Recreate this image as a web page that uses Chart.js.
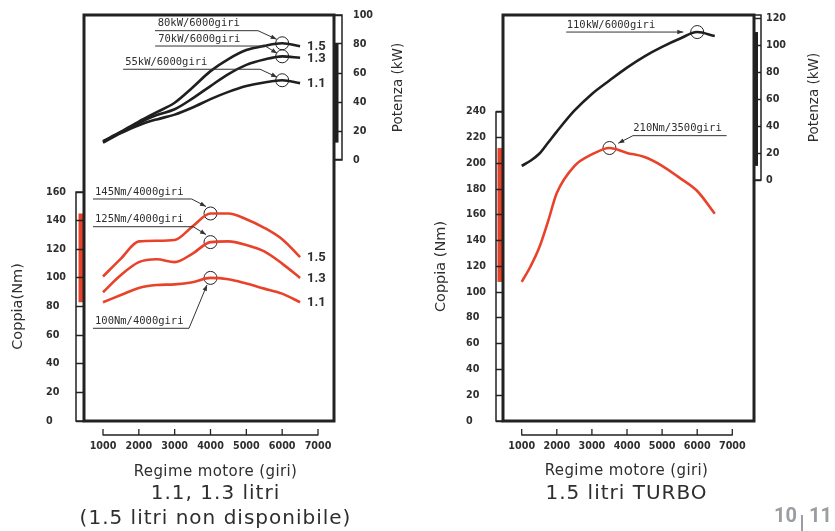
<!DOCTYPE html>
<html><head><meta charset="utf-8">
<script src="https://cdn.jsdelivr.net/npm/chart.js@4.4.1/dist/chart.umd.min.js"></script>
<style>
html,body{margin:0;padding:0;background:#fff;width:835px;height:531px;overflow:hidden}
canvas{position:absolute;top:0}
#c1{left:0}
#c2{left:418px}
</style></head><body>
<canvas id="c1" width="418" height="531"></canvas>
<canvas id="c2" width="417" height="531"></canvas>
<script>
// ---------- DATA ----------
// Left panel: 1.1 / 1.3 / 1.5 litri
const rpmA = [1000,1500,2000,2500,3000,3500,4000,4500,5000,5500,6000,6500];
const powerA15 = [13,19.5,26.5,33,39.5,50,61.3,69.6,75.8,78.7,80.5,78.5];
const powerA13 = [12.5,19,25.5,31,35,42.5,51,59.2,65.6,69.3,71.5,70.5];
const powerA11 = [12,18.5,24,28,31.3,36.2,42,47,51,53.5,55,53];
const torqueA15 = [101,113.5,125.5,126,126.5,136,145,145,141,135,127,114.5];
const torqueA13 = [90,102,111,113,111,117,125,125.5,123,118.5,110,100];
const torqueA11 = [83,88,93,95,95.5,97,100,99,96,92.5,89,83];
const seriesNamesA = ['1.5','1.3','1.1'];
// Right panel: 1.5 litri TURBO
const rpmB = [1000,1250,1500,1750,2000,2500,3000,3500,4000,4500,5000,5500,6000,6500];
const powerB = [10.5,14.3,19.5,27.7,36,51.5,64,74,83.6,92,99,105,110,107];
const torqueB = [108,120,134.7,155,177,198,207,212,208.2,205,198.2,188.8,178.6,161];
// Ticks
const xTicks = [1000,2000,3000,4000,5000,6000,7000];
const torqueTicksA = [0,20,40,60,80,100,120,140,160];
const powerTicksA = [0,20,40,60,80,100];
const torqueTicksB = [0,20,40,60,80,100,120,140,160,180,200,220,240];
const powerTicksB = [0,20,40,60,80,100,120];
// Peak annotations
const peaksA_power = [{rpm:6000, text:'80kW/6000giri'},{rpm:6000, text:'70kW/6000giri'},{rpm:6000, text:'55kW/6000giri'}];
const peaksA_torque = [{rpm:4000, text:'145Nm/4000giri'},{rpm:4000, text:'125Nm/4000giri'},{rpm:4000, text:'100Nm/4000giri'}];
const peakB_power = {rpm:6000, text:'110kW/6000giri'};
const peakB_torque = {rpm:3500, text:'210Nm/3500giri'};

// ---------- STYLE ----------
const TXT = '#2e2e2e', FRAME = '#222', RED = '#e8432a', BLACK = '#1f1f1f';
const tickFont = {family:'DejaVu Sans', size:9.6, weight:'bold'};

function pts(xs, ys){ return xs.map((x,i)=>({x, y:ys[i]})); }
function lineDs(xs, ys, color, axis){
  return {data:pts(xs,ys), yAxisID:axis, borderColor:color, borderWidth:2.6, pointRadius:0,
    cubicInterpolationMode:'monotone', fill:false, borderCapStyle:'butt'};
}
function valAt(xs, ys, x){ return ys[xs.indexOf(x)]; }
function circleDs(xs, ys, x, axis){
  return {data:[{x, y:valAt(xs,ys,x)}], yAxisID:axis, showLine:false, pointRadius:6.5,
    pointBorderWidth:1, pointBorderColor:'#222', pointBackgroundColor:'rgba(0,0,0,0)', pointHoverRadius:6.5};
}
function arrow(ctx, x0,y0,x1,y1){
  ctx.beginPath(); ctx.moveTo(x0,y0); ctx.lineTo(x1,y1); ctx.stroke();
  const a = Math.atan2(y1-y0, x1-x0), L=6, W=2.3;
  ctx.beginPath(); ctx.moveTo(x1,y1);
  ctx.lineTo(x1-L*Math.cos(a)+W*Math.sin(a), y1-L*Math.sin(a)-W*Math.cos(a));
  ctx.lineTo(x1-L*Math.cos(a)-W*Math.sin(a), y1-L*Math.sin(a)+W*Math.cos(a));
  ctx.closePath(); ctx.fill();
}
function text(ctx, s, x, y, font, align, spacing, rot){
  ctx.save(); ctx.font = font; ctx.fillStyle = TXT; ctx.textAlign = align||'left'; ctx.textBaseline='middle';
  ctx.letterSpacing = spacing||'0px';
  ctx.translate(x,y); if(rot) ctx.rotate(rot); ctx.fillText(s,0,0); ctx.restore();
}

function decor(o){
  return {
    id:'decor',
    beforeDraw(chart){
      const ctx=chart.ctx, ca=chart.chartArea, sT=chart.scales.yT, sP=chart.scales.yP;
      const allT=o.torque.flat(), allP=o.power.flat();
      ctx.save();
      ctx.fillStyle=RED;
      const t1=sT.getPixelForValue(Math.max(...allT)), t0=sT.getPixelForValue(Math.min(...allT));
      ctx.fillRect(ca.left-o.fillW, t1, o.fillW, t0-t1);
      ctx.fillStyle=BLACK;
      const p1=sP.getPixelForValue(Math.max(...allP)), p0=sP.getPixelForValue(Math.min(...allP));
      ctx.fillRect(ca.right, p1, o.pFillW, p0-p1);
      ctx.restore();
    },
    afterDraw(chart){
      const ctx=chart.ctx, ca=chart.chartArea, sx=chart.scales.x, sT=chart.scales.yT, sP=chart.scales.yP;
      ctx.save();
      ctx.strokeStyle=FRAME; ctx.fillStyle=FRAME;
      ctx.lineWidth=1.5;
      const tTop=sT.getPixelForValue(o.tTicks[o.tTicks.length-1]);
      ctx.strokeRect(ca.left-o.tl, tTop, o.tl, ca.bottom-tTop);
      const p0=sP.getPixelForValue(0);
      ctx.strokeRect(ca.right, ca.top, o.tl, p0-ca.top);
      ctx.lineWidth=3;
      ctx.strokeRect(ca.left, ca.top, ca.right-ca.left, ca.bottom-ca.top);
      ctx.lineWidth=1.3;
      const yb=ca.bottom+14;
      ctx.beginPath();
      ctx.moveTo(sx.getPixelForValue(xTicks[0]), yb); ctx.lineTo(sx.getPixelForValue(xTicks[xTicks.length-1]), yb);
      xTicks.forEach(v=>{const px=sx.getPixelForValue(v); ctx.moveTo(px,yb-6); ctx.lineTo(px,yb+0.6);});
      ctx.stroke();
      const tMid=(sT.getPixelForValue(0)+tTop)/2;
      text(ctx, o.titleT, o.titleTx, tMid, '14.5px "DejaVu Sans"', 'center', '0px', -Math.PI/2);
      const pMid=(p0+ca.top)/2;
      text(ctx, 'Potenza (kW)', o.titlePx, pMid, '13.5px "DejaVu Sans"', 'center', '0px', -Math.PI/2);
      text(ctx, 'Regime motore (giri)', o.cx, o.xTitleY, '15px "DejaVu Sans"', 'center', '0.4px');
      o.subs.forEach(s=>text(ctx, s.t, o.cx, s.y, '20px "DejaVu Sans"', 'center', '1px'));
      ctx.lineWidth=1;
      o.ann.forEach(a=>{
        const cx=sx.getPixelForValue(a.x), cy=chart.scales[a.axis].getPixelForValue(a.y);
        text(ctx, a.text, cx+a.t[0], cy+a.t[1], '10.5px "DejaVu Sans Mono"', 'left');
        ctx.strokeStyle='#333'; ctx.fillStyle='#333';
        const p=a.path;
        ctx.beginPath(); ctx.moveTo(cx+p[0][0], cy+p[0][1]);
        for(let i=1;i<p.length;i++) ctx.lineTo(cx+p[i][0], cy+p[i][1]);
        ctx.stroke();
        const last=p[p.length-1];
        arrow(ctx, cx+last[0], cy+last[1], cx+a.tip[0], cy+a.tip[1]);
      });
      (o.ends||[]).forEach(e=>{
        const n=e.xs.length-1;
        text(ctx, e.text, sx.getPixelForValue(e.xs[n])+7, chart.scales[e.axis].getPixelForValue(e.ys[n])+0.5, 'bold 13px Roboto', 'left');
      });
      if(o.page){
        ctx.fillStyle='#9a9ea2';
        ctx.font='bold 20px Roboto'; ctx.textBaseline='middle';
        ctx.textAlign='right'; ctx.fillText('10', o.page.x, o.page.y);
        ctx.fillRect(o.page.x+4, o.page.y-2, 2, 16);
        ctx.textAlign='left'; ctx.fillText('11', o.page.x+12, o.page.y);
      }
      ctx.restore();
    }
  };
}

function axes(c){
  return {
    x:{type:'linear', position:'bottom', min:c.xMin, max:c.xMax,
      afterBuildTicks:s=>{s.ticks=xTicks.map(v=>({value:v}));},
      afterFit:s=>{s.height=40; s.paddingLeft=0; s.paddingRight=0;},
      grid:{display:false, drawTicks:false}, border:{display:false},
      ticks:{padding:20, font:tickFont, color:TXT, autoSkip:false, maxRotation:0, callback:v=>String(v)}},
    yT:{type:'linear', position:'left', min:0, max:c.tMax,
      afterBuildTicks:s=>{s.ticks=c.tTicks.map(v=>({value:v}));},
      afterFit:s=>{s.width=c.lw; s.paddingTop=0; s.paddingBottom=0;},
      grid:{drawOnChartArea:false, drawTicks:true, tickLength:c.tl, tickWidth:1.5, tickColor:FRAME},
      border:{display:false},
      ticks:{crossAlign:'far', padding:4, font:tickFont, color:TXT, autoSkip:false, callback:v=>String(v)}},
    yP:{type:'linear', position:'right', min:c.pMin, max:c.pMax,
      afterBuildTicks:s=>{s.ticks=c.pTicks.map(v=>({value:v}));},
      afterFit:s=>{s.width=c.rw; s.paddingTop=0; s.paddingBottom=0;},
      grid:{drawOnChartArea:false, drawTicks:true, tickLength:c.tl, tickWidth:1.5, tickColor:FRAME},
      border:{display:false},
      ticks:{crossAlign:'near', padding:c.pPad, font:tickFont, color:TXT, autoSkip:false, callback:v=>String(v)}}
  };
}

function baseOpts(padLeft){
  return {responsive:false, animation:false, events:[],
    layout:{padding:{left:padLeft,right:0,top:15,bottom:70}},
    plugins:{legend:{display:false}, tooltip:{enabled:false}}};
}

// ---------- LEFT CHART ----------
new Chart(document.getElementById('c1'), {
  type:'line',
  data:{datasets:[
    lineDs(rpmA, powerA15, BLACK, 'yP'), lineDs(rpmA, powerA13, BLACK, 'yP'), lineDs(rpmA, powerA11, BLACK, 'yP'),
    lineDs(rpmA, torqueA15, RED, 'yT'), lineDs(rpmA, torqueA13, RED, 'yT'), lineDs(rpmA, torqueA11, RED, 'yT'),
    circleDs(rpmA, powerA15, peaksA_power[0].rpm, 'yP'), circleDs(rpmA, powerA13, peaksA_power[1].rpm, 'yP'), circleDs(rpmA, powerA11, peaksA_power[2].rpm, 'yP'),
    circleDs(rpmA, torqueA15, peaksA_torque[0].rpm, 'yT'), circleDs(rpmA, torqueA13, peaksA_torque[1].rpm, 'yT'), circleDs(rpmA, torqueA11, peaksA_torque[2].rpm, 'yT')
  ]},
  options:Object.assign(baseOpts(46), {scales:axes({xMin:469.8, xMax:7446.5, tMax:283.7, tTicks:torqueTicksA, pMin:-180, pMax:100, pTicks:powerTicksA, lw:38, rw:84, tl:8, pPad:11})}),
  plugins:[decor({
    torque:[torqueA15,torqueA13,torqueA11], power:[powerA15,powerA13,powerA11],
    fillW:5.5, pFillW:4.5, tl:8, tTicks:torqueTicksA,
    titleT:'Coppia(Nm)', titleTx:18, titlePx:398, cx:215.5, xTitleY:471.7,
    subs:[{t:'1.1, 1.3 litri', y:494},{t:'(1.5 litri non disponibile)', y:518.3}],
    ann:[
      {x:peaksA_power[0].rpm, y:valAt(rpmA,powerA15,6000), axis:'yP', text:peaksA_power[0].text, t:[-124.5,-20.3], path:[[-127.2,-12.6],[-24.2,-12.6]], tip:[-5.5,-4]},
      {x:peaksA_power[1].rpm, y:valAt(rpmA,powerA13,6000), axis:'yP', text:peaksA_power[1].text, t:[-124,-17.3], path:[[-127,-10.3],[-17,-10.3]], tip:[-5,-3]},
      {x:peaksA_power[2].rpm, y:valAt(rpmA,powerA11,6000), axis:'yP', text:peaksA_power[2].text, t:[-157,-17.5], path:[[-159,-11],[-22,-11]], tip:[-5,-3]},
      {x:peaksA_torque[0].rpm, y:valAt(rpmA,torqueA15,4000), axis:'yT', text:peaksA_torque[0].text, t:[-115.5,-21.2], path:[[-117.5,-14.5],[-18.8,-14.5]], tip:[-4.5,-7]},
      {x:peaksA_torque[1].rpm, y:valAt(rpmA,torqueA13,4000), axis:'yT', text:peaksA_torque[1].text, t:[-115.5,-22.8], path:[[-117.5,-15.4],[-17.2,-15.4]], tip:[-4.5,-7.5]},
      {x:peaksA_torque[2].rpm, y:valAt(rpmA,torqueA11,4000), axis:'yT', text:peaksA_torque[2].text, t:[-115.5,43.1], path:[[-117.5,50.4],[-21.5,50.4]], tip:[-3.5,7]}
    ],
    ends:[
      {xs:rpmA, ys:powerA15, axis:'yP', text:seriesNamesA[0]},{xs:rpmA, ys:powerA13, axis:'yP', text:seriesNamesA[1]},{xs:rpmA, ys:powerA11, axis:'yP', text:seriesNamesA[2]},
      {xs:rpmA, ys:torqueA15, axis:'yT', text:seriesNamesA[0]},{xs:rpmA, ys:torqueA13, axis:'yT', text:seriesNamesA[1]},{xs:rpmA, ys:torqueA11, axis:'yT', text:seriesNamesA[2]}
    ]
  })]
});

// ---------- RIGHT CHART ----------
new Chart(document.getElementById('c2'), {
  type:'line',
  data:{datasets:[
    lineDs(rpmB, powerB, BLACK, 'yP'), lineDs(rpmB, torqueB, RED, 'yT'),
    circleDs(rpmB, powerB, peakB_power.rpm, 'yP'), circleDs(rpmB, torqueB, peakB_torque.rpm, 'yT')
  ]},
  options:Object.assign(baseOpts(48), {scales:axes({xMin:467.2, xMax:7618.2, tMax:315.3, tTicks:torqueTicksB, pMin:-179.18, pMax:122.68, pTicks:powerTicksB, lw:37, rw:81, tl:7, pPad:5})}),
  plugins:[decor({
    torque:[torqueB], power:[powerB],
    fillW:5.5, pFillW:4, tl:7, tTicks:torqueTicksB,
    titleT:'Coppia (Nm)', titleTx:23.7, titlePx:396, cx:208.5, xTitleY:470.7,
    subs:[{t:'1.5 litri TURBO', y:493.3}],
    ann:[
      {x:peakB_power.rpm, y:valAt(rpmB,powerB,6000), axis:'yP', text:peakB_power.text, t:[-130.5,-7], path:[[-131,0]], tip:[-13.9,0]},
      {x:peakB_torque.rpm, y:valAt(rpmB,torqueB,3500), axis:'yT', text:peakB_torque.text, t:[23.8,-19.75], path:[[117.2,-12.35],[23.5,-12.35]], tip:[8.8,-4.75]}
    ],
    page:{x:379, y:517}
  })]
});
</script>
</body></html>
